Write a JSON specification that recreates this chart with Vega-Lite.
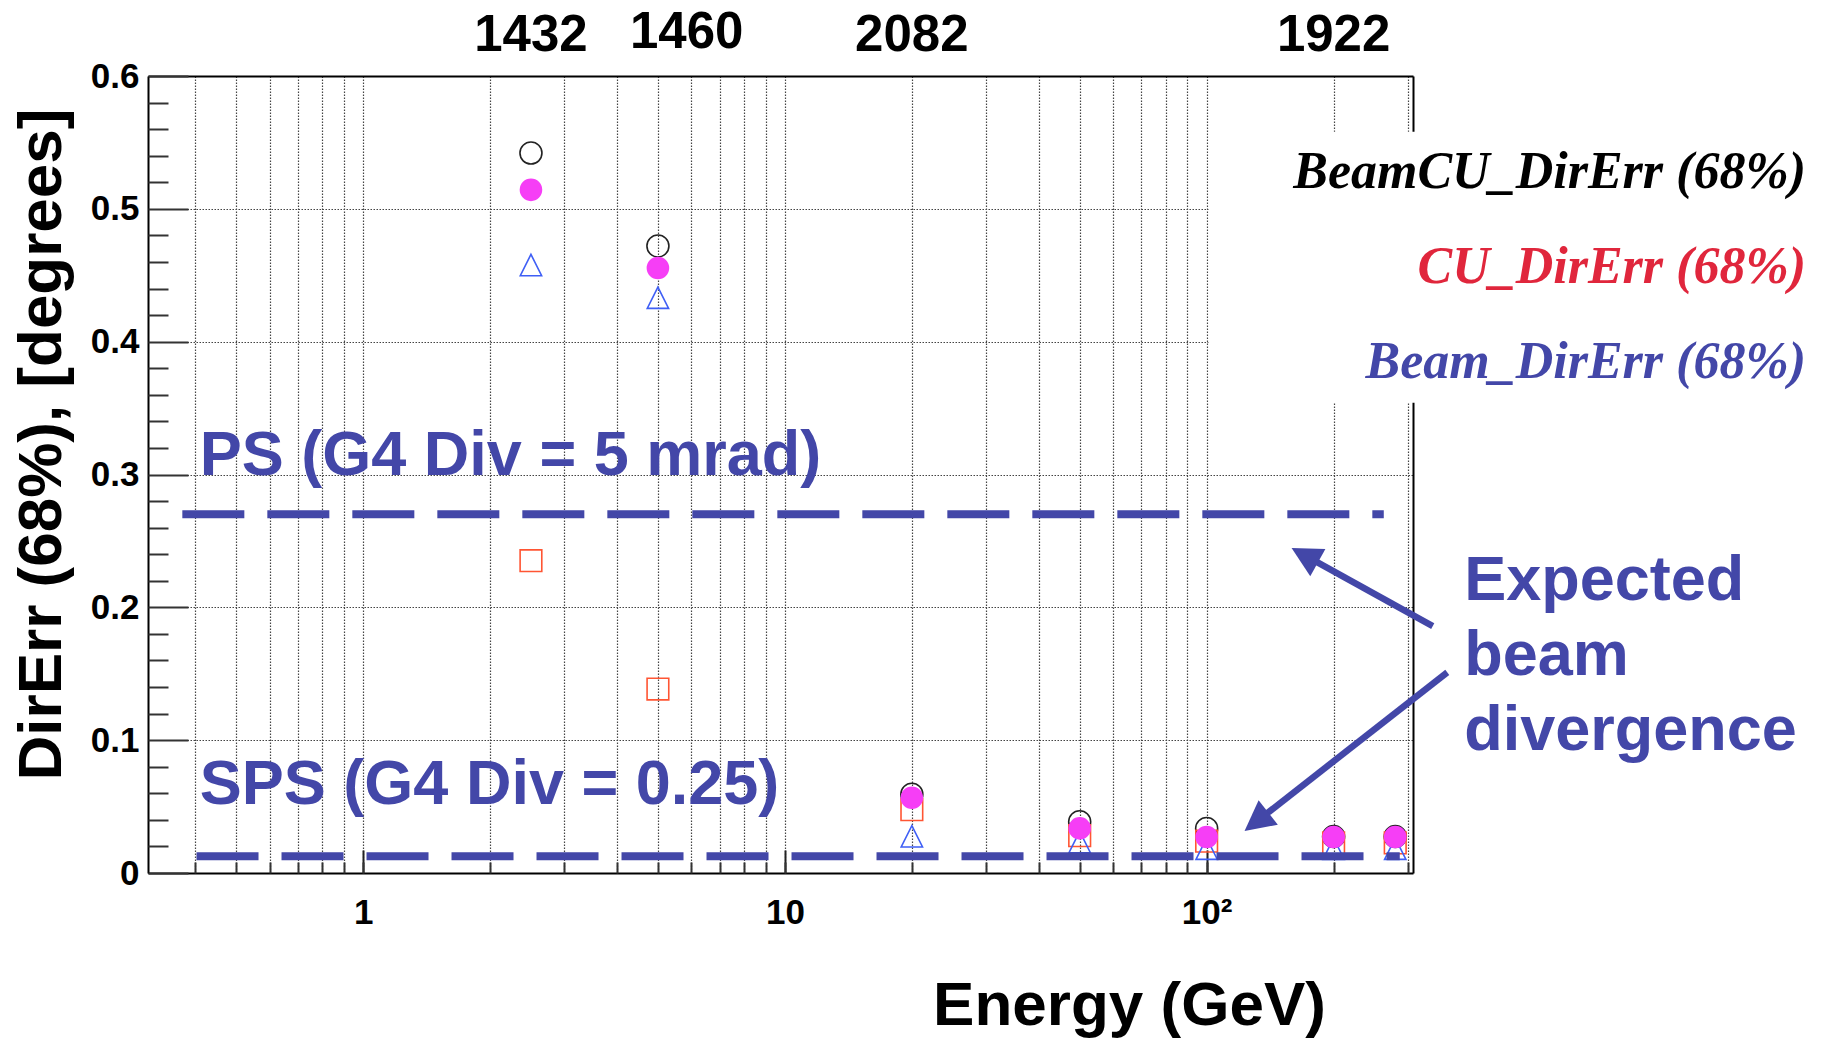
{
  "$schema": "https://vega.github.io/schema/vega-lite/v6.json",
  "width": 1265,
  "height": 797,
  "autosize": {"type": "none"},
  "padding": {"left": 148, "top": 76, "right": 409, "bottom": 166},
  "background": "white",
  "config": {
    "font": "Liberation Sans",
    "view": {"stroke": null}
  },
  "datasets": {
    "points": [
      {"series": "BeamCU", "energy": 2.5, "direrr": 0.542},
      {"series": "BeamCU", "energy": 5, "direrr": 0.472},
      {"series": "BeamCU", "energy": 20, "direrr": 0.0593},
      {"series": "BeamCU", "energy": 50, "direrr": 0.0386},
      {"series": "BeamCU", "energy": 100, "direrr": 0.0335},
      {"series": "BeamCU", "energy": 200, "direrr": 0.0275},
      {"series": "BeamCU", "energy": 280, "direrr": 0.0275},
      {"series": "CU", "energy": 2.5, "direrr": 0.2351},
      {"series": "CU", "energy": 5, "direrr": 0.1385},
      {"series": "CU", "energy": 20, "direrr": 0.0477},
      {"series": "CU", "energy": 50, "direrr": 0.0281},
      {"series": "CU", "energy": 100, "direrr": 0.024},
      {"series": "CU", "energy": 200, "direrr": 0.0226},
      {"series": "CU", "energy": 280, "direrr": 0.0226},
      {"series": "Beam", "energy": 2.5, "direrr": 0.4577},
      {"series": "Beam", "energy": 5, "direrr": 0.4331},
      {"series": "Beam", "energy": 20, "direrr": 0.0276},
      {"series": "Beam", "energy": 50, "direrr": 0.0233},
      {"series": "Beam", "energy": 100, "direrr": 0.0183},
      {"series": "Beam", "energy": 200, "direrr": 0.0183},
      {"series": "Beam", "energy": 280, "direrr": 0.0183},
      {"series": "Mag", "energy": 2.5, "direrr": 0.5143},
      {"series": "Mag", "energy": 5, "direrr": 0.4555},
      {"series": "Mag", "energy": 20, "direrr": 0.0567},
      {"series": "Mag", "energy": 50, "direrr": 0.0336},
      {"series": "Mag", "energy": 100, "direrr": 0.0271},
      {"series": "Mag", "energy": 200, "direrr": 0.0271},
      {"series": "Mag", "energy": 280, "direrr": 0.0271}
    ],
    "beamlines": [
      {"beam": "PS", "from": 0.3727, "to": 263, "level": 0.27},
      {"beam": "SPS", "from": 0.4027, "to": 287, "level": 0.0126}
    ],
    "box": [
      {"x1": 101, "x2": 10000, "y1": 0.354, "y2": 0.558}
    ],
    "runs": [
      {"energy": 2.5, "run": "1432", "level": 0.619},
      {"energy": 5.85, "run": "1460", "level": 0.621},
      {"energy": 20, "run": "2082", "level": 0.619},
      {"energy": 200, "run": "1922", "level": 0.619}
    ],
    "notes": [
      {"label": "PS (G4 Div = 5 mrad)", "x": 0.41, "y": 0.3},
      {"label": "SPS (G4 Div = 0.25)", "x": 0.41, "y": 0.0516},
      {"label": "Expected", "x": 408, "y": 0.2056},
      {"label": "beam", "x": 408, "y": 0.149},
      {"label": "divergence", "x": 408, "y": 0.0926}
    ],
    "legend": [
      {"label": "BeamCU_DirErr (68%)", "x": 2637, "y": 0.5158},
      {"label": "CU_DirErr (68%)", "x": 2637, "y": 0.4443},
      {"label": "Beam_DirErr (68%)", "x": 2637, "y": 0.3727}
    ],
    "arrows": [
      {"x1": 343.6, "y1": 0.1858, "x2": 175.2, "y2": 0.2373},
      {"x1": 372, "y1": 0.151, "x2": 134.1, "y2": 0.041}
    ]
  },
  "layer": [
    {
      "data": {"name": "points"},
      "mark": {"type": "point", "strokeWidth": 1.6, "opacity": 1},
      "encoding": {
        "x": {
          "field": "energy",
          "type": "quantitative",
          "scale": {"type": "log", "domain": [0.309, 308.5], "nice": false},
          "axis": {
            "orient": "bottom",
            "values": [1, 10, 100],
            "labelExpr": "datum.value == 100 ? '10²' : datum.value == 10 ? '10' : '1'",
            "ticks": false,
            "grid": false,
            "domain": true,
            "domainColor": "black",
            "domainWidth": 2,
            "labelFontSize": 35,
            "labelFontWeight": "bold",
            "labelColor": "black",
            "labelPadding": 50,
            "labelBaseline": "alphabetic",
            "labelFlush": false,
            "labelOverlap": false,
            "title": "Energy (GeV)",
            "titleFontSize": 62,
            "titleFontWeight": "bold",
            "titleColor": "black",
            "titleX": 981,
            "titleY": 151,
            "titleAlign": "center",
            "titleBaseline": "alphabetic"
          }
        },
        "y": {
          "field": "direrr",
          "type": "quantitative",
          "scale": {"domain": [0, 0.6], "nice": false, "zero": false},
          "axis": {
            "orient": "left",
            "values": [0, 0.1, 0.2, 0.3, 0.4, 0.5, 0.6],
            "format": "~g",
            "ticks": false,
            "grid": false,
            "domain": true,
            "domainColor": "black",
            "domainWidth": 2,
            "labelFontSize": 35,
            "labelFontWeight": "bold",
            "labelColor": "black",
            "labelPadding": 9,
            "labelFlush": false,
            "labelOverlap": false,
            "title": "DirErr (68%), [degrees]",
            "titleFontSize": 62,
            "titleFontWeight": "bold",
            "titleColor": "black",
            "titleX": -88,
            "titleY": 368,
            "titleAngle": -90,
            "titleAlign": "center",
            "titleBaseline": "alphabetic"
          }
        },
        "shape": {
          "field": "series",
          "type": "nominal",
          "scale": {"domain": ["BeamCU", "CU", "Beam", "Mag"], "range": ["circle", "square", "M0,-1L1,1L-1,1Z", "circle"]},
          "legend": null
        },
        "stroke": {
          "field": "series",
          "type": "nominal",
          "scale": {"domain": ["BeamCU", "CU", "Beam", "Mag"], "range": ["#222222", "#ff5533", "#3f5ff5", "#f63ef6"]},
          "legend": null
        },
        "fill": {
          "field": "series",
          "type": "nominal",
          "scale": {"domain": ["BeamCU", "CU", "Beam", "Mag"], "range": ["transparent", "transparent", "transparent", "#f63ef6"]},
          "legend": null
        },
        "size": {
          "field": "series",
          "type": "nominal",
          "scale": {"domain": ["BeamCU", "CU", "Beam", "Mag"], "range": [484, 441, 441, 441]},
          "legend": null
        }
      }
    },
    {
      "data": {"name": "beamlines"},
      "mark": {"type": "rule", "color": "#4347a8", "strokeWidth": 8, "strokeDash": [62, 23]},
      "encoding": {
        "x": {
          "field": "from",
          "type": "quantitative",
          "scale": {"type": "log", "domain": [0.309, 308.5], "nice": false},
          "axis": {
            "orient": "bottom",
            "values": [1, 10, 100],
            "labels": false,
            "domain": false,
            "grid": false,
            "ticks": true,
            "tickSize": -23,
            "tickWidth": 2,
            "tickColor": "#222222",
            "title": null
          }
        },
        "x2": {"field": "to"},
        "y": {
          "field": "level",
          "type": "quantitative",
          "scale": {"domain": [0, 0.6], "nice": false, "zero": false},
          "axis": {
            "orient": "left",
            "values": [0, 0.1, 0.2, 0.3, 0.4, 0.5, 0.6],
            "labels": false,
            "domain": false,
            "ticks": true,
            "tickSize": -40,
            "tickWidth": 2,
            "tickColor": "#333333",
            "grid": true,
            "gridColor": "#444444",
            "gridDash": [1.5, 1.5],
            "gridWidth": 1.2,
            "title": null
          }
        }
      }
    },
    {
      "data": {"name": "box"},
      "mark": {"type": "rect", "fill": "white", "strokeWidth": 0},
      "encoding": {
        "x": {
          "field": "x1",
          "type": "quantitative",
          "scale": {"type": "log", "domain": [0.309, 308.5], "nice": false},
          "axis": {
            "orient": "bottom",
            "values": [0.4, 0.5, 0.6, 0.7, 0.8, 0.9, 1, 2, 3, 4, 5, 6, 7, 8, 9, 10, 20, 30, 40, 50, 60, 70, 80, 90, 100, 200, 300],
            "labels": false,
            "domain": false,
            "ticks": true,
            "tickSize": -11,
            "tickWidth": 2,
            "tickColor": "#333333",
            "grid": true,
            "gridColor": "#444444",
            "gridDash": [1.5, 1.5],
            "gridWidth": 1.2,
            "title": null
          }
        },
        "x2": {"field": "x2"},
        "y": {
          "field": "y1",
          "type": "quantitative",
          "scale": {"domain": [0, 0.6], "nice": false, "zero": false},
          "axis": {
            "orient": "left",
            "values": [0.02, 0.04, 0.06, 0.08, 0.12, 0.14, 0.16, 0.18, 0.22, 0.24, 0.26, 0.28, 0.32, 0.34, 0.36, 0.38, 0.42, 0.44, 0.46, 0.48, 0.52, 0.54, 0.56, 0.58],
            "labels": false,
            "domain": false,
            "ticks": true,
            "tickSize": -20,
            "tickWidth": 2,
            "tickColor": "#333333",
            "grid": false,
            "title": null
          }
        },
        "y2": {"field": "y2"}
      }
    },
    {
      "data": {"name": "runs"},
      "mark": {"type": "text", "fontSize": 51, "fontWeight": "bold", "color": "black", "align": "center", "baseline": "alphabetic"},
      "encoding": {
        "x": {
          "field": "energy",
          "type": "quantitative",
          "scale": {"type": "log", "domain": [0.309, 308.5], "nice": false},
          "axis": {"orient": "top", "labels": false, "ticks": false, "grid": false, "domain": true, "domainColor": "black", "domainWidth": 2, "title": null}
        },
        "y": {
          "field": "level",
          "type": "quantitative",
          "scale": {"domain": [0, 0.6], "nice": false, "zero": false},
          "axis": {"orient": "right", "labels": false, "ticks": false, "grid": false, "domain": true, "domainColor": "black", "domainWidth": 2, "title": null}
        },
        "text": {"field": "run"}
      }
    },
    {
      "data": {"name": "notes"},
      "mark": {"type": "text", "fontSize": 63, "fontWeight": "bold", "color": "#4347a8", "align": "left", "baseline": "alphabetic"},
      "encoding": {
        "x": {"field": "x", "type": "quantitative", "scale": {"type": "log", "domain": [0.309, 308.5], "nice": false}, "axis": null},
        "y": {"field": "y", "type": "quantitative", "scale": {"domain": [0, 0.6], "nice": false, "zero": false}, "axis": null},
        "text": {"field": "label"}
      }
    },
    {
      "data": {"name": "legend"},
      "mark": {"type": "text", "font": "Liberation Serif", "fontSize": 52, "fontWeight": "bold", "fontStyle": "italic", "align": "right", "baseline": "alphabetic"},
      "encoding": {
        "x": {"field": "x", "type": "quantitative", "scale": {"type": "log", "domain": [0.309, 308.5], "nice": false}, "axis": null},
        "y": {"field": "y", "type": "quantitative", "scale": {"domain": [0, 0.6], "nice": false, "zero": false}, "axis": null},
        "text": {"field": "label"},
        "color": {
          "field": "label",
          "type": "nominal",
          "scale": {"domain": ["BeamCU_DirErr (68%)", "CU_DirErr (68%)", "Beam_DirErr (68%)"], "range": ["black", "#e0263c", "#4347a8"]},
          "legend": null
        }
      }
    },
    {
      "data": {"name": "arrows"},
      "mark": {"type": "rule", "color": "#4347a8", "strokeWidth": 6.5},
      "encoding": {
        "x": {"field": "x1", "type": "quantitative", "scale": {"type": "log", "domain": [0.309, 308.5], "nice": false}, "axis": null},
        "x2": {"field": "x2"},
        "y": {"field": "y1", "type": "quantitative", "scale": {"domain": [0, 0.6], "nice": false, "zero": false}, "axis": null},
        "y2": {"field": "y2"}
      }
    },
    {
      "data": {"values": [{"x": 159, "y": 0.2446}]},
      "mark": {"type": "point", "shape": "M0,0L0.52,1L-0.52,1Z", "size": 3600, "angle": 299, "filled": true, "color": "#4347a8", "opacity": 1, "strokeWidth": 0},
      "encoding": {
        "x": {"field": "x", "type": "quantitative", "scale": {"type": "log", "domain": [0.309, 308.5], "nice": false}, "axis": null},
        "y": {"field": "y", "type": "quantitative", "scale": {"domain": [0, 0.6], "nice": false, "zero": false}, "axis": null}
      }
    },
    {
      "data": {"values": [{"x": 123, "y": 0.0317}]},
      "mark": {"type": "point", "shape": "M0,0L0.52,1L-0.52,1Z", "size": 3600, "angle": 232, "filled": true, "color": "#4347a8", "opacity": 1, "strokeWidth": 0},
      "encoding": {
        "x": {"field": "x", "type": "quantitative", "scale": {"type": "log", "domain": [0.309, 308.5], "nice": false}, "axis": null},
        "y": {"field": "y", "type": "quantitative", "scale": {"domain": [0, 0.6], "nice": false, "zero": false}, "axis": null}
      }
    }
  ],
  "resolve": {"axis": {"x": "independent", "y": "independent"}}
}
